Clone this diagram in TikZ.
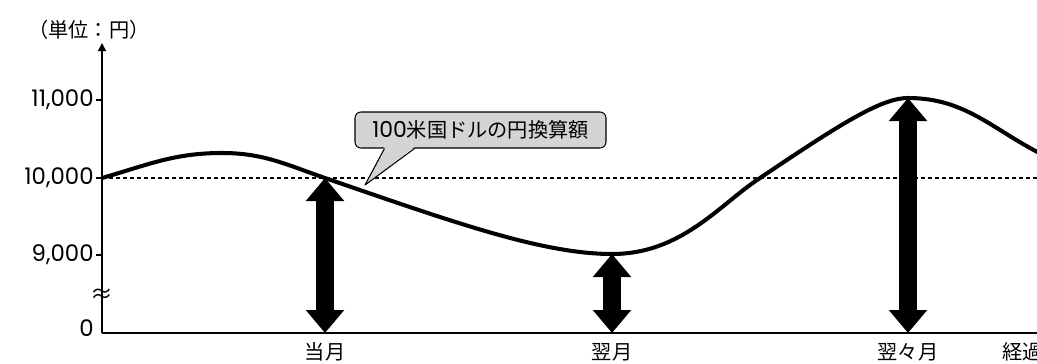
\documentclass[tikz,border=0pt]{standalone}
\usepackage{fontspec}
\usepackage{xcolor}
\setmainfont{Noto Sans CJK JP}
\newfontfamily\numfont{Poppins}
\definecolor{calloutgray}{RGB}{212, 212, 212}
\usetikzlibrary{arrows.meta, positioning, calc}

\begin{document}
\begin{tikzpicture}[
    font=\fontsize{11.5}{13}\selectfont,
    axis/.style={line width=0.8pt},
    tick/.style={line width=0.6pt},
    rate/.style={line width=2.3pt, line join=round},
    parity/.style={line width=1.1pt, dash pattern=on 0.08cm off 0.06cm},
    gap/.style={line width=0.36cm, {Triangle[length=0.46cm,width=0.74cm]}-{Triangle[length=0.46cm,width=0.74cm]}},
    ylabel/.style={left=0.04cm, inner sep=0pt, font=\numfont\fontsize{13}{13}\selectfont},
    month/.style={inner sep=0pt, anchor=base}
]
    \useasboundingbox (-2.04,-0.6) rectangle (18.7,6.66);

    % axes
    \coordinate (O) at (0,0);
    \coordinate (ytop) at (0,5.8);
    \coordinate (xend) at (18.9,0);
    \draw[axis, -{Triangle[length=0.16cm,width=0.16cm]}] (O) -- (ytop);
    \draw[axis, -{Triangle[length=0.16cm,width=0.16cm]}] (O) -- (xend);
    \node (unit) at (-0.26,6.06) {（単位：円）};

    % ticks
    \foreach \y/\lab/\nm in {4.66/11{,}000/y11, 3.1/10{,}000/y10, 1.56/9{,}000/y9} {
        \draw[tick] (-0.12,\y) -- (0,\y);
        \node[ylabel] (\nm) at (-0.12,\y) {\lab};
    }
    \node[ylabel] (y0) at (-0.12,0.1) {0};
    \node[inner sep=0pt, font=\fontsize{13}{13}\selectfont] (cut) at (0,0.74) {≈};

    % 10,000 line
    \coordinate (p0) at (0,3.1);
    \coordinate (pend) at (18.7,3.1);
    \draw[parity] (p0) -- (pend);

    % month points
    \coordinate (t1) at (4.46,3.1);
    \coordinate (t2) at (10.2,1.58);
    \coordinate (t3) at (16.12,4.70);
    \coordinate (b1) at (4.46,0);
    \coordinate (b2) at (10.2,0);
    \coordinate (b3) at (16.12,0);
    \draw[gap] (b1) -- (t1);
    \draw[gap] (b2) -- (t2);
    \draw[gap] (b3) -- (t3);

    \node[month] (m1) at (4.46,-0.52) {当月};
    \node[month] (m2) at (10.2,-0.52) {翌月};
    \node[month] (m3) at (16.12,-0.52) {翌々月};
    \node[month, anchor=base west] (m4) at (18.0,-0.52) {経過};

    % exchange rate curve
    \coordinate (c1) at (13.16,3.1);
    \draw[rate] (p0) to[out=16,in=180] (2.4,3.6) to[out=0,in=161] (t1)
        .. controls (6.99,2.23) and (8.8,1.58) .. (t2)
        .. controls (11.6,1.58) and (12.36,2.58) .. (c1)
        .. controls (14.82,4.22) and (15.6,4.70) .. (t3)
        to[out=0,in=155] (18.95,3.5);

    % callout
    \node[draw, fill=calloutgray, rounded corners=0.12cm, line width=0.6pt,
          minimum width=5.02cm, minimum height=0.72cm, inner sep=0pt] (callout) at (7.57,4.06) {{\numfont\fontsize{12.5}{13}\selectfont 100}米国ドルの円換算額};
    \coordinate (tip) at (5.26,2.96);
    \fill[calloutgray] ($(callout.south west)+(0.6,0.03)$) -- (tip) -- ($(callout.south west)+(1.2,0.03)$) -- cycle;
    \draw[line width=0.6pt, line join=round] ($(callout.south west)+(0.6,0)$) -- (tip) -- ($(callout.south west)+(1.2,0)$);
\end{tikzpicture}
\end{document}
